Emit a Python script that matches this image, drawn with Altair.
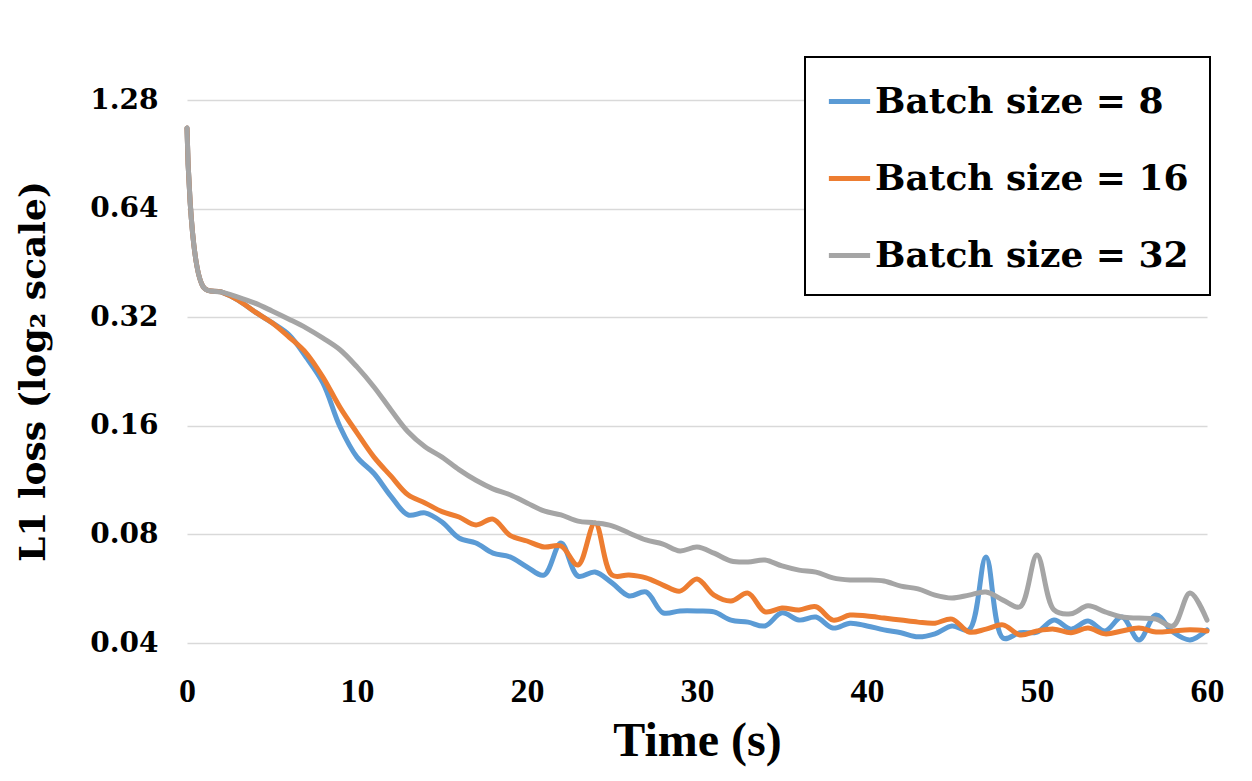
import altair as alt
import pandas as pd

time_s = list(range(0, 61))

batch_8 = [1.07, 0.386, 0.376, 0.357, 0.331, 0.309, 0.286, 0.248, 0.210, 0.159,
           0.131, 0.118, 0.102, 0.0906, 0.0918, 0.0866, 0.0782, 0.0757, 0.0710, 0.0693,
           0.0650, 0.0617, 0.0757, 0.0613, 0.0629, 0.0587, 0.0540, 0.0554, 0.0485, 0.0491,
           0.0491, 0.0488, 0.0463, 0.0457, 0.0446, 0.0485, 0.0463, 0.0472, 0.0440, 0.0454,
           0.0446, 0.0435, 0.0427, 0.0416, 0.0424, 0.0446, 0.0435, 0.0693, 0.0413, 0.0427,
           0.0429, 0.0463, 0.0437, 0.0460, 0.0432, 0.0472, 0.0408, 0.0478, 0.0429, 0.0408,
           0.0435]

batch_16 = [1.07, 0.386, 0.376, 0.357, 0.331, 0.309, 0.282, 0.255, 0.218, 0.180,
            0.153, 0.131, 0.116, 0.103, 0.0978, 0.0925, 0.0894, 0.0850, 0.0882, 0.0795,
            0.0767, 0.0738, 0.0743, 0.0658, 0.0861, 0.0617, 0.0617, 0.0606, 0.0579, 0.0557,
            0.0602, 0.0543, 0.0523, 0.0550, 0.0488, 0.0500, 0.0494, 0.0504, 0.0463, 0.0478,
            0.0475, 0.0469, 0.0463, 0.0457, 0.0454, 0.0466, 0.0429, 0.0437, 0.0449, 0.0421,
            0.0432, 0.0437, 0.0427, 0.0440, 0.0424, 0.0432, 0.0440, 0.0429, 0.0432, 0.0435,
            0.0432]

batch_32 = [1.07, 0.386, 0.376, 0.364, 0.350, 0.333, 0.316, 0.299, 0.280, 0.260,
            0.233, 0.205, 0.177, 0.154, 0.140, 0.131, 0.121, 0.113, 0.107, 0.103,
            0.0978, 0.0929, 0.0906, 0.0871, 0.0861, 0.0845, 0.0807, 0.0772, 0.0752, 0.0720,
            0.0738, 0.0710, 0.0675, 0.0671, 0.0679, 0.0654, 0.0637, 0.0629, 0.0606, 0.0598,
            0.0598, 0.0594, 0.0575, 0.0565, 0.0543, 0.0533, 0.0543, 0.0554, 0.0526, 0.0504,
            0.0701, 0.0494, 0.0482, 0.0507, 0.0488, 0.0472, 0.0469, 0.0466, 0.0446, 0.0550,
            0.0463]

series_names = ["Batch size = 8", "Batch size = 16", "Batch size = 32"]
series_colors = ["#5B9BD5", "#ED7D31", "#A5A5A5"]
y_ticks = [0.04, 0.08, 0.16, 0.32, 0.64, 1.28]
x_ticks = [0, 10, 20, 30, 40, 50, 60]

rows = []
for name, vals in zip(series_names, [batch_8, batch_16, batch_32]):
    for t, v in zip(time_s, vals):
        rows.append({"time": t, "loss": v, "series": name})
df = pd.DataFrame(rows)

chart = alt.Chart(df).mark_line(
    interpolate="catmull-rom", strokeWidth=5, strokeCap="round", strokeJoin="round"
).encode(
    x=alt.X("time:Q",
            scale=alt.Scale(domain=[0, 60], nice=False, zero=False),
            axis=alt.Axis(values=x_ticks, title="Time (s)", grid=False, domain=False,
                          ticks=False, labelPadding=31, labelFlush=False,
                          labelFont="Liberation Serif", labelFontSize=34,
                          labelFontWeight="bold", labelColor="black",
                          titleFont="Liberation Serif", titleFontSize=48,
                          titleFontWeight="bold", titleColor="black",
                          titleX=510, titleY=112, titleAnchor="middle",
                          titleAlign="center", titleBaseline="alphabetic")),
    y=alt.Y("loss:Q",
            scale=alt.Scale(type="log", base=2, domain=[0.04, 1.28], nice=False),
            axis=alt.Axis(values=y_ticks, title="L1 loss (log₂ scale)", format=".2f",
                          grid=True, gridColor="#d9d9d9", gridWidth=1.5,
                          domain=False, ticks=False, labelPadding=29,
                          labelFlush=False, labelOverlap=False,
                          labelFont="DejaVu Serif", labelFontSize=28,
                          labelFontWeight="bold", labelColor="black",
                          labelBaseline="middle",
                          titleFont="DejaVu Serif", titleFontSize=36,
                          titleFontWeight="bold", titleColor="black",
                          titleAngle=270, titleX=-143, titleY=271,
                          titleAlign="center", titleBaseline="alphabetic")),
    color=alt.Color("series:N",
                    scale=alt.Scale(domain=series_names, range=series_colors),
                    legend=alt.Legend(title=None, orient="none", legendX=618, legendY=-43,
                                      symbolType="stroke", symbolStrokeWidth=5,
                                      symbolSize=1700, labelFont="DejaVu Serif",
                                      labelFontSize=36, labelFontWeight="bold",
                                      labelColor="black", labelOffset=2,
                                      rowPadding=35, padding=21,
                                      strokeColor="black", fillColor="white",
                                      labelLimit=500)),
    order=alt.value(0),
).properties(
    width=1020,
    height=543,
    autosize=alt.AutoSizeParams(type="none"),
    padding={"left": 187, "top": 100, "right": 45, "bottom": 138},
    background="white",
).configure_view(
    stroke=None
).configure_legend(
    strokeWidth=2
)

chart.save("out.html", embed_options={"renderer": "svg", "actions": False})
